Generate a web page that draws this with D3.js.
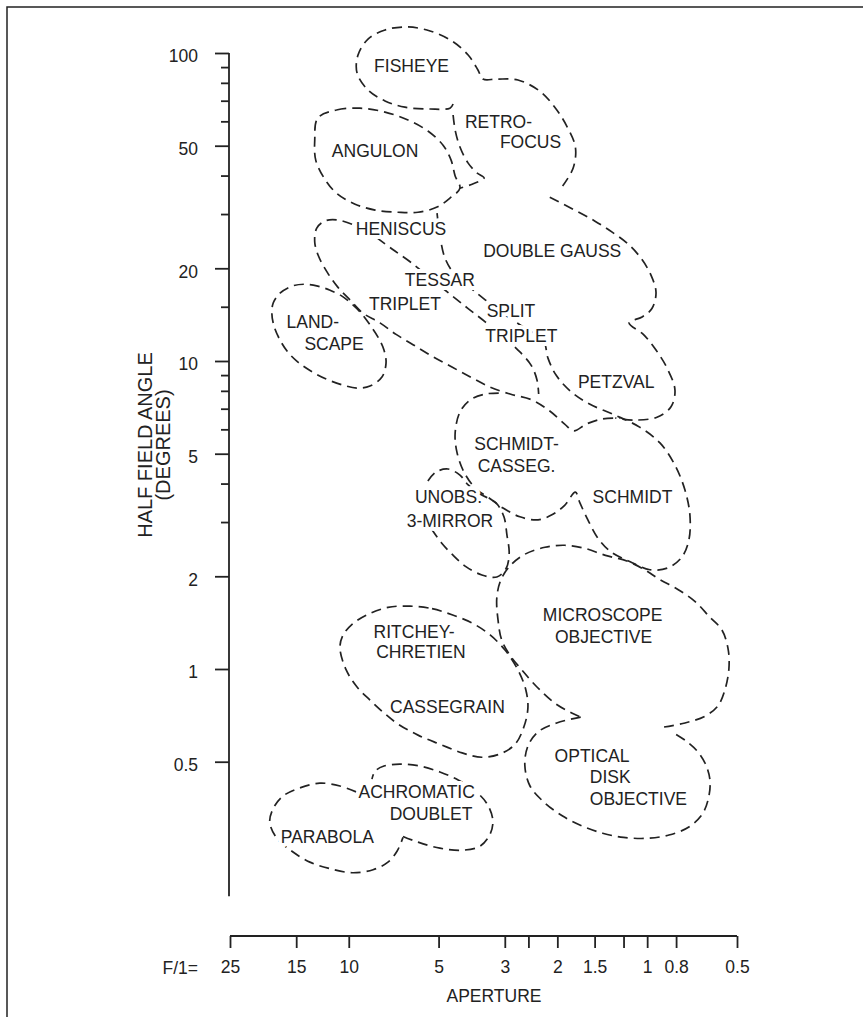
<!DOCTYPE html>
<html>
<head>
<meta charset="utf-8">
<script src="https://cdn.jsdelivr.net/npm/d3@7"></script>
<style>
  body { margin: 0; background: #fff; }
  svg text { font-family: "Liberation Sans", Arial, Helvetica, sans-serif; fill: #222; }
</style>
</head>
<body>
<svg id="chart" width="863" height="1017"></svg>
<script>
// ---- axes ----
const apertureTicks  = [25, 15, 10, 5, 3, 2.5, 2, 1.5, 1.2, 1, 0.8, 0.5];
const apertureLabels = [25, 15, 10, 5, 3, 2, 1.5, 1, 0.8, 0.5];
const angleMajor     = [100, 50, 20, 10, 5, 2, 1, 0.5];
const angleMinor     = [90, 80, 70, 60, 40, 30, 15, 9, 8, 7, 6, 4, 3];
const angleAxisEnd   = 0.183;

// ---- design-type regions: [F-number, half field angle (deg)] ----
const fisheyeRetrofocus = [[4.47,68.3],[4.58,66.2],[5.34,65.8],[6.48,66.7],[7.56,69.9],[8.62,75.8],[9.38,86.1],[9.31,98.5],[8.62,111],[7.56,118.8],[6.37,121.5],[5.34,117.9],[4.51,109.4],[3.98,98.5],[3.69,88.1],[3.55,82.3],[3.19,82.3],[2.71,81.7],[2.29,75.2],[2.04,66.7],[1.86,57.9],[1.74,49.5],[1.77,42.3],[1.92,37.0]];
const retrofocusLeft = [[4.47,62.9],[4.40,56.2],[4.24,49.5],[3.98,43.9],[3.72,40.8],[3.52,39.3],[3.86,37.5],[4.24,36.4]];
const angulon = [[12.7,61.5],[11.0,65.3],[9.17,66.2],[7.56,64.3],[6.33,60.6],[5.43,55.8],[4.83,50.2],[4.54,44.9],[4.40,39.9],[4.24,36.4],[4.58,33.8],[5.06,31.6],[5.86,30.4],[6.84,30.4],[8.16,30.9],[9.52,32.3],[11.0,35.1],[12.1,39.3],[12.9,44.9],[13.0,52.2]];
const doubleGaussPetzval = [[2.12,34.0],[1.77,31.1],[1.50,28.5],[1.31,26.2],[1.16,24.0],[1.05,21.6],[0.971,19.0],[0.934,16.7],[0.964,14.8],[1.04,13.9],[1.15,13.3],[1.03,12.2],[0.934,10.85],[0.858,9.49],[0.807,8.05],[0.833,7.09],[0.927,6.57],[1.10,6.43],[1.28,6.53]];
const tripletBoundary = [[9.75,27.8],[10.9,28.7],[12.0,28.5],[12.8,27.0],[13.0,24.3],[12.6,21.8],[11.8,19.4],[10.9,17.4],[9.91,15.8],[8.96,14.3],[7.86,13.3],[6.94,12.2],[6.09,11.3],[5.26,10.37],[4.51,9.56],[3.86,8.81],[3.36,8.23],[2.88,7.81],[2.43,7.47],[2.12,6.88],[1.89,6.24],[1.76,5.93],[1.60,6.24],[1.42,6.48],[1.23,6.53]];
const tessarBoundary = [[8.04,25.1],[7.16,23.1],[6.23,21.0],[5.34,18.6],[4.51,16.3],[3.98,14.8],[3.49,13.4],[3.04,11.96],[2.71,10.85],[2.45,9.70],[2.34,8.68],[2.31,7.81]];
const splitSchmidtBoundary = [[5.06,30.2],[4.95,25.6],[4.76,21.6],[4.40,19.0],[3.92,17.3],[3.49,15.8],[2.99,14.1],[2.57,12.8],[2.23,11.7],[2.15,10.22],[2.02,9.00],[1.81,7.99],[1.56,7.25],[1.28,6.67],[1.06,6.10],[0.906,5.42],[0.807,4.59],[0.747,3.81],[0.719,3.16],[0.725,2.62],[0.765,2.31],[0.852,2.13],[0.979,2.10],[1.14,2.23],[1.33,2.41],[1.47,2.68],[1.58,3.05],[1.68,3.46],[1.74,3.75],[1.89,3.40],[2.07,3.18],[2.32,3.05],[2.67,3.12],[3.04,3.33],[3.36,3.57],[3.77,3.87],[4.11,4.36],[4.34,5.06],[4.40,5.84],[4.24,6.83],[3.92,7.47],[3.49,7.81],[3.11,7.87]];
const landscape = [[17.9,15.45],[17.0,16.6],[15.5,17.5],[14.0,17.75],[12.7,17.5],[11.6,17.0],[10.6,16.3],[9.75,15.3],[9.03,14.2],[8.49,13.1],[7.98,11.96],[7.62,10.85],[7.50,9.84],[7.74,8.87],[8.49,8.29],[9.38,8.17],[10.5,8.36],[11.9,8.74],[13.4,9.28],[14.8,9.92],[16.0,10.69],[17.0,11.7],[17.8,12.98],[18.1,14.3]];
const unobscured3Mirror = [[5.43,4.08],[5.10,4.36],[4.65,4.46],[4.24,4.26],[3.98,3.96],[3.63,3.70],[3.21,3.46],[3.02,3.12],[2.95,2.72],[2.90,2.38],[2.97,2.12],[3.19,1.99],[3.58,2.02],[4.05,2.15],[4.51,2.36],[4.91,2.58],[5.26,2.83]];
const ritcheyCassegrain = [[6.23,1.60],[5.26,1.57],[4.51,1.50],[3.86,1.41],[3.36,1.29],[2.99,1.15],[2.71,0.993],[2.55,0.855],[2.51,0.747],[2.59,0.648],[2.77,0.570],[3.11,0.530],[3.58,0.517],[4.17,0.534],[4.95,0.570],[5.86,0.610],[6.84,0.663],[7.68,0.725],[8.49,0.793],[9.38,0.874],[10.2,0.993],[10.7,1.167],[10.5,1.277],[9.75,1.397],[8.62,1.504],[7.39,1.585]];
const microscope = [[0.878,0.648],[0.747,0.668],[0.640,0.703],[0.580,0.758],[0.549,0.855],[0.532,1.008],[0.536,1.167],[0.562,1.34],[0.616,1.472],[0.692,1.658],[0.789,1.813],[0.906,1.95],[1.02,2.10],[1.17,2.243],[1.38,2.339],[1.62,2.466],[1.89,2.522],[2.20,2.484],[2.57,2.358],[2.88,2.163],[3.09,1.95],[3.19,1.707],[3.16,1.44],[3.07,1.24],[2.88,1.107],[2.63,0.993],[2.34,0.874],[2.04,0.775],[1.79,0.720],[1.67,0.698]];
const opticalDisk = [[1.67,0.698],[2.01,0.668],[2.32,0.625],[2.51,0.562],[2.57,0.487],[2.47,0.417],[2.22,0.370],[1.92,0.333],[1.65,0.309],[1.41,0.293],[1.20,0.284],[1.00,0.282],[0.845,0.289],[0.725,0.307],[0.651,0.340],[0.621,0.387],[0.616,0.436],[0.635,0.487],[0.676,0.538],[0.741,0.584],[0.826,0.625]];
const parabola = [[9.45,0.399],[10.7,0.417],[12.5,0.426],[14.6,0.411],[16.6,0.387],[17.9,0.353],[18.4,0.318],[17.4,0.282],[15.5,0.256],[13.5,0.236],[11.6,0.225],[9.75,0.218],[8.29,0.223],[7.39,0.236],[6.89,0.256],[6.58,0.284]];
const achromaticDoublet = [[6.58,0.286],[5.86,0.274],[4.95,0.262],[4.17,0.258],[3.63,0.266],[3.36,0.291],[3.29,0.323],[3.44,0.365],[3.77,0.402],[4.30,0.436],[4.95,0.463],[5.77,0.484],[6.74,0.491],[7.62,0.484],[8.16,0.466],[8.36,0.439]];

// ---- region names, anchored at [F-number, angle] of each text baseline centre ----
const labelText = ["FISHEYE","RETRO-","FOCUS","ANGULON","HENISCUS","DOUBLE GAUSS","TESSAR","TRIPLET","SPLIT","TRIPLET","LAND-","SCAPE","PETZVAL","SCHMIDT-","CASSEG.","UNOBS.","3-MIRROR","SCHMIDT","RITCHEY-","CHRETIEN","CASSEGRAIN","MICROSCOPE","OBJECTIVE","OPTICAL","DISK","OBJECTIVE","ACHROMATIC","DOUBLET","PARABOLA"];
const labelF     = [6.16,3.15,2.46,8.16,6.68,2.08,4.95,6.48,2.86,2.64,13.2,11.2,1.27,2.74,2.74,4.63,4.58,1.12,6.04,5.73,4.67,1.41,1.40,1.53,1.33,1.07,5.92,5.30,11.8];
const labelAngle = [86.5,57.0,49.1,45.9,25.6,21.8,17.5,14.6,13.9,11.5,12.8,10.85,8.17,5.14,4.36,3.46,2.89,3.46,1.258,1.086,0.720,1.429,1.212,0.498,0.426,0.361,0.382,0.323,0.272];

// ---- build ----
const svg = d3.select("#chart");
const ink = "#222";
const fontSize = 17.5;

// page frame
svg.append("rect").attr("x", 7).attr("y", 7).attr("width", 900).attr("height", 1100)
  .attr("fill", "none").attr("stroke", ink).attr("stroke-width", 1.5);

const x = d3.scaleLog().domain([25, 0.5]).range([230, 737]);
const y = d3.scaleLog().domain([100, 1]).range([53, 669]);

const outlines = [
  { pts: fisheyeRetrofocus, closed: false },
  { pts: retrofocusLeft, closed: false },
  { pts: angulon, closed: true },
  { pts: doubleGaussPetzval, closed: false },
  { pts: tripletBoundary, closed: false },
  { pts: tessarBoundary, closed: false },
  { pts: splitSchmidtBoundary, closed: false },
  { pts: landscape, closed: true },
  { pts: unobscured3Mirror, closed: false },
  { pts: ritcheyCassegrain, closed: true },
  { pts: microscope, closed: false },
  { pts: opticalDisk, closed: false },
  { pts: parabola, closed: false },
  { pts: achromaticDoublet, closed: false }
];

const openLine = d3.line().x(d => x(d[0])).y(d => y(d[1])).curve(d3.curveCatmullRom.alpha(0.5));
const closedLine = d3.line().x(d => x(d[0])).y(d => y(d[1])).curve(d3.curveCatmullRomClosed.alpha(0.5));

svg.append("g").selectAll("path").data(outlines).join("path")
  .attr("d", d => (d.closed ? closedLine : openLine)(d.pts))
  .attr("fill", "none")
  .attr("stroke", ink)
  .attr("stroke-width", 1.7)
  .attr("stroke-dasharray", "10,6");

// region names with a white halo that breaks the dashed outlines
const labels = labelText.map((t, i) => ({ t, f: labelF[i], a: labelAngle[i] }));
svg.append("g").selectAll("text").data(labels).join("text")
  .attr("x", d => x(d.f)).attr("y", d => y(d.a))
  .attr("text-anchor", "middle")
  .attr("font-size", fontSize)
  .attr("stroke", "#fff").attr("stroke-width", 8).attr("stroke-linejoin", "round")
  .attr("paint-order", "stroke")
  .text(d => d.t);

// vertical axis: angle
const yAxisG = svg.append("g").attr("transform", "translate(229,0)");
yAxisG.append("line").attr("x1", 0).attr("x2", 0)
  .attr("y1", y(100)).attr("y2", y(angleAxisEnd))
  .attr("stroke", ink).attr("stroke-width", 1.8);
const yMajor = yAxisG.append("g").call(
  d3.axisLeft(y).tickValues(angleMajor).tickSize(14).tickSizeOuter(0).tickPadding(17)
    .tickFormat(d3.format("")));
const yMinor = yAxisG.append("g").call(
  d3.axisLeft(y).tickValues(angleMinor).tickSize(8).tickSizeOuter(0).tickFormat(""));
[yMajor, yMinor].forEach(g => {
  g.select(".domain").remove();
  g.selectAll(".tick line").attr("stroke", ink).attr("stroke-width", 1.8);
});
yMajor.selectAll(".tick text").attr("font-size", fontSize).attr("dy", "0.5em")
  .attr("font-family", null).attr("fill", ink);

// horizontal axis: aperture
const xAxisG = svg.append("g").attr("transform", "translate(0,936)");
xAxisG.call(d3.axisBottom(x).tickValues(apertureTicks).tickSize(12).tickSizeOuter(0).tickPadding(13)
  .tickFormat(d => apertureLabels.includes(d) ? String(d) : ""));
xAxisG.select(".domain").attr("stroke", ink).attr("stroke-width", 1.8)
  .attr("d", `M${x(25)},0H${x(0.5)}`);
xAxisG.selectAll(".tick line").attr("stroke", ink).attr("stroke-width", 1.8);
xAxisG.selectAll(".tick text").attr("font-size", fontSize).attr("font-family", null).attr("fill", ink);

svg.append("text").attr("x", 198).attr("y", 974).attr("text-anchor", "end")
  .attr("font-size", fontSize).text("F/1=");
svg.append("text").attr("x", 494).attr("y", 1002).attr("text-anchor", "middle")
  .attr("font-size", fontSize).text("APERTURE");

// axis title
const titleSize = 20;
const yTitle = svg.append("g").attr("transform", "translate(0,445) rotate(-90)");
yTitle.append("text").attr("x", 0).attr("y", 152).attr("text-anchor", "middle")
  .attr("font-size", titleSize).text("HALF FIELD ANGLE");
yTitle.append("text").attr("x", 0).attr("y", 170).attr("text-anchor", "middle")
  .attr("font-size", titleSize).text("(DEGREES)");
</script>
</body>
</html>
